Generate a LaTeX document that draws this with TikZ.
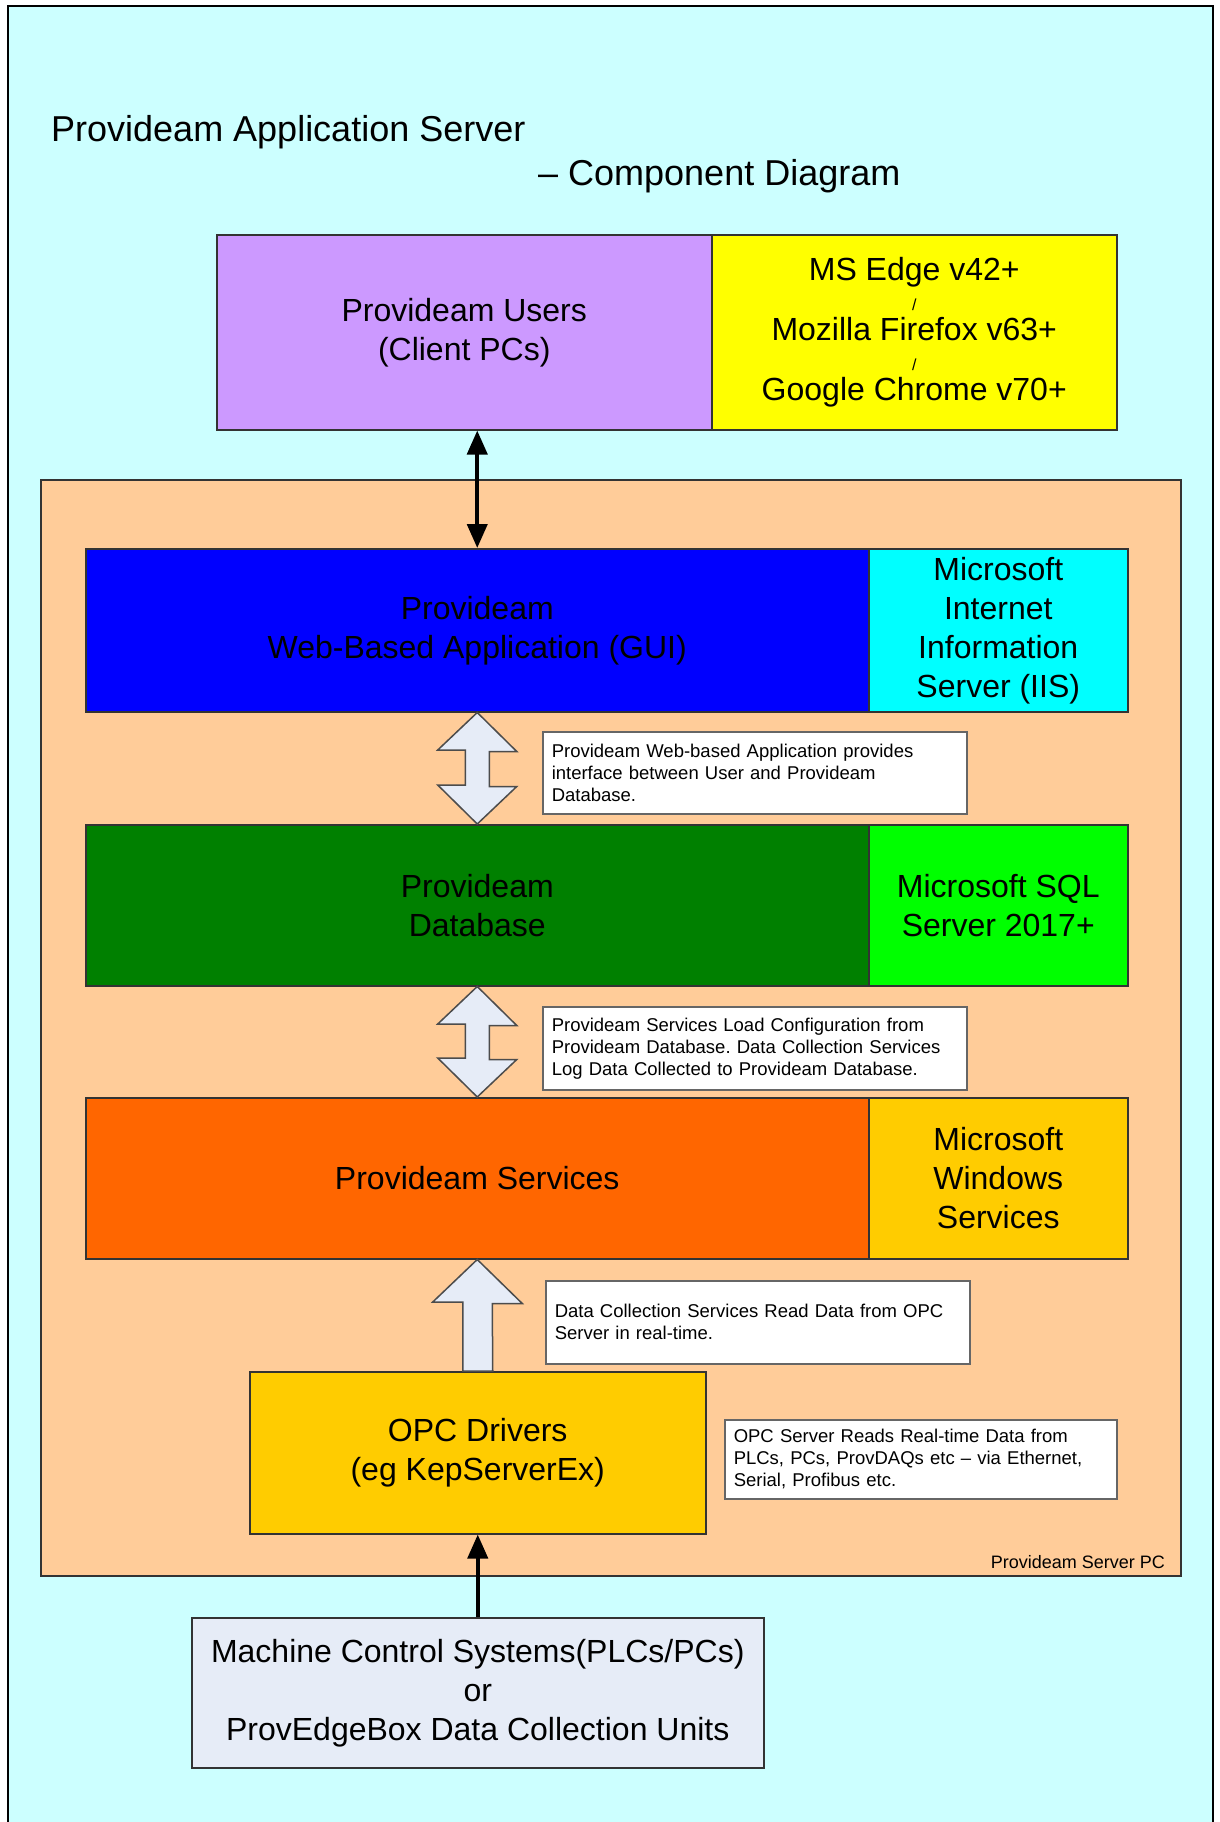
\documentclass[tikz,border=0pt]{standalone}
\usepackage{fontspec}
\setmainfont{Liberation Sans}
\usetikzlibrary{arrows.meta,calc}
\frenchspacing
\definecolor{bgcyan}{HTML}{CCFFFF}
\definecolor{peach}{HTML}{FFCC99}
\definecolor{lilac}{HTML}{CC99FF}
\definecolor{yel}{HTML}{FFFF00}
\definecolor{blu}{HTML}{0000FF}
\definecolor{cya}{HTML}{00FFFF}
\definecolor{dgreen}{HTML}{008000}
\definecolor{lgreen}{HTML}{00FF00}
\definecolor{orng}{HTML}{FF6600}
\definecolor{gold}{HTML}{FFCC00}
\definecolor{lightfill}{HTML}{E6ECF7}
\definecolor{edge}{HTML}{333333}
\begin{document}
\begin{tikzpicture}[x=1pt,y=-1pt,
  box/.style={draw=edge, line width=1.5pt, rectangle, inner sep=0pt, anchor=north west, align=center, font=\fontsize{32}{39}\selectfont},
  note/.style={draw=black!60, line width=1.5pt, fill=white, rectangle, anchor=north west, align=left, inner sep=9pt, font=\fontsize{18.5}{22}\selectfont},
  blockarrow/.style={draw=black!70, line width=1.5pt, fill=lightfill, line join=miter},
  thinarrow/.style={line width=4pt, {Triangle[length=24pt,width=20pt]}-{Triangle[length=24pt,width=20pt]}},
  uparrow/.style={line width=4pt, -{Triangle[length=24pt,width=20pt]}},
  title/.style={anchor=west, inner sep=0pt, font=\fontsize{36}{43}\selectfont},
]
\useasboundingbox (0,0) rectangle (1220,1822);
% background
\path[fill=bgcyan, draw=black, line width=2.5pt] (8,6) rectangle (1213,1840);

\node[title] (t1) at (51,132) {Provideam Application Server};
\node[title] (t2) at (538,176) {– Component Diagram};

% clients
\node[box, fill=lilac, minimum width=495pt, minimum height=195pt] (users) at (216,234) {Provideam Users\\(Client PCs)};
\node[box, fill=yel, minimum width=405pt, minimum height=195pt] (browser) at (711,234)
  {MS Edge v42+\\[-9pt]{\fontsize{16}{16}\selectfont /}\\[-9pt]Mozilla Firefox v63+\\[-9pt]{\fontsize{16}{16}\selectfont /}\\[-9pt]Google Chrome v70+};

% server PC
\path[fill=peach, draw=edge, line width=1.5pt] (41,480) rectangle (1181,1576);
\node[anchor=east, inner sep=0pt, font=\fontsize{18}{22}\selectfont] (pclabel) at (1165,1562) {Provideam Server PC};

\node[box, fill=blu, minimum width=783pt, minimum height=163pt] (web) at (85,548) {Provideam\\Web-Based Application (GUI)};
\node[box, fill=cya, minimum width=259pt, minimum height=163pt] (iis) at (868,548) {Microsoft\\Internet\\Information\\Server (IIS)};

\node[box, fill=dgreen, minimum width=783pt, minimum height=161pt] (db) at (85,824) {Provideam\\Database};
\node[box, fill=lgreen, minimum width=259pt, minimum height=161pt] (sql) at (868,824) {Microsoft SQL\\Server 2017+};

\node[box, fill=orng, minimum width=783pt, minimum height=161pt] (svc) at (85,1097) {Provideam Services};
\node[box, fill=gold, minimum width=259pt, minimum height=161pt] (win) at (868,1097) {Microsoft\\Windows\\Services};

\node[box, fill=gold, minimum width=456pt, minimum height=162pt] (opc) at (249,1371) {OPC Drivers\\(eg KepServerEx)};

\node[box, fill=lightfill, minimum width=572pt, minimum height=150pt] (mcs) at (191,1617) {Machine Control Systems(PLCs/PCs)\\or\\ProvEdgeBox Data Collection Units};

% notes
\node[note, minimum width=424pt, minimum height=82pt, text width=406pt] (n1) at (542,731)
  {Provideam Web-based Application provides\\interface between User and Provideam\\Database.};
\node[note, minimum width=424pt, minimum height=83pt, text width=406pt] (n2) at (542,1006)
  {Provideam Services Load Configuration from\\Provideam Database. Data Collection Services\\Log Data Collected to Provideam Database.};
\node[note, minimum width=424pt, minimum height=83pt, text width=406pt] (n3) at (545,1280)
  {Data Collection Services Read Data from OPC\\Server in real-time.};
\node[note, minimum width=392pt, minimum height=79pt, text width=374pt] (n4) at (724,1419)
  {OPC Server Reads Real-time Data from\\PLCs, PCs, ProvDAQs etc – via Ethernet,\\Serial, Profibus etc.};

% connectors
\draw[thinarrow] (web.north |- users.south) -- (web.north);
\draw[uparrow] (mcs.north) -- (opc.south);

\draw[blockarrow] (web.south) -- ++(39.5,39) -- ++(-27.5,0) -- ++(0,35) -- ++(27.5,0) -- (db.north)
  -- ++(-39.5,-39) -- ++(27.5,0) -- ++(0,-35) -- ++(-27.5,0) -- cycle;
\draw[blockarrow] (db.south) -- ++(39.5,39) -- ++(-27.5,0) -- ++(0,34) -- ++(27.5,0) -- (svc.north)
  -- ++(-39.5,-39) -- ++(27.5,0) -- ++(0,-34) -- ++(-27.5,0) -- cycle;
\draw[blockarrow] (svc.south) -- ++(45,44) -- ++(-30,0) -- ($(opc.north)+(15,0)$) -- ($(opc.north)+(-15,0)$)
  -- ++(0,-69) -- ++(-30,0) -- cycle;
\end{tikzpicture}
\end{document}
